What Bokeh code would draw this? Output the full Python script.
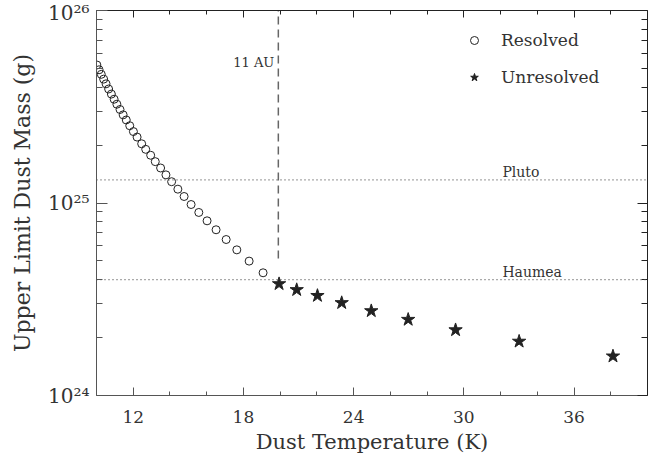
from bokeh.plotting import figure
from bokeh.models import (Range1d, LogAxis, LinearAxis, FixedTicker, CustomJSTickFormatter,
                          Span, Label, Legend, LegendItem, Segment, ColumnDataSource)
from bokeh.embed import file_html
from bokeh.resources import INLINE

# ---- data ----
resolved_temp = [10.02, 10.14, 10.26, 10.39, 10.52, 10.66, 10.81, 10.96, 11.11, 11.28,
                 11.45, 11.62, 11.81, 12.01, 12.21, 12.46, 12.68, 12.95, 13.20, 13.49,
                 13.78, 14.09, 14.43, 14.77, 15.15, 15.57, 16.02, 16.51, 17.06, 17.64,
                 18.31, 19.07]
resolved_mass = [5.21e25, 4.92e25, 4.66e25, 4.40e25, 4.16e25, 3.91e25, 3.68e25, 3.46e25,
                 3.26e25, 3.06e25, 2.87e25, 2.70e25, 2.52e25, 2.35e25, 2.20e25, 2.03e25,
                 1.90e25, 1.77e25, 1.64e25, 1.52e25, 1.40e25, 1.29e25, 1.18e25, 1.081e25,
                 9.82e24, 8.93e24, 8.08e24, 7.26e24, 6.46e24, 5.71e24, 4.99e24, 4.34e24]
unresolved_temp = [19.94, 20.90, 22.03, 23.35, 24.96, 26.97, 29.55, 33.01, 38.12]
unresolved_mass = [3.80e24, 3.54e24, 3.30e24, 3.03e24, 2.75e24, 2.48e24, 2.19e24, 1.91e24, 1.60e24]

pluto_mass = 1.32e25
haumea_mass = 4.0e24
au11_temp = 19.9
au11_bottom = 5.15e24
au11_label_mass = 5.35e25
ref_label_temp = 32.1

x_major = [12, 18, 24, 30, 36]
x_minor = [10, 14, 16, 20, 22, 26, 28, 32, 34, 38, 40]
y_major = [1e24, 1e25, 1e26]
y_minor = [2e24, 3e24, 4e24, 5e24, 6e24, 7e24, 8e24, 9e24,
           2e25, 3e25, 4e25, 5e25, 6e25, 7e25, 8e25, 9e25]

FONT = "DejaVu Serif"
TXT = "#333333"

p = figure(width=650, height=458, output_backend="svg", toolbar_location=None,
           x_range=Range1d(10, 40), y_range=Range1d(1e24, 1e26), y_axis_type="log",
           min_border_left=96, min_border_right=3, min_border_top=10, min_border_bottom=63)
p.outline_line_color = None
p.grid.visible = False
p.background_fill_color = "white"

sup_fmt = CustomJSTickFormatter(code="""
const e = Math.round(Math.log10(tick));
const sup = {'0':'\u2070','1':'\u00b9','2':'\u00b2','3':'\u00b3','4':'\u2074','5':'\u2075','6':'\u2076','7':'\u2077','8':'\u2078','9':'\u2079','-':'\u207b'};
return '10' + String(e).split('').map(c => sup[c]).join('');
""")
blank_fmt = CustomJSTickFormatter(code="return '';")

xa = p.xaxis[0]
xa.ticker = FixedTicker(ticks=x_major, minor_ticks=x_minor)
xa.axis_label = "Dust Temperature (K)"
ya = p.yaxis[0]
ya.ticker = FixedTicker(ticks=y_major, minor_ticks=y_minor)
ya.formatter = sup_fmt
ya.axis_label = "Upper Limit Dust Mass (g)"

for ax in (xa, ya):
    ax.axis_line_color = "#555555"
    ax.major_tick_line_color = "#555555"
    ax.minor_tick_line_color = "#555555"
    ax.major_tick_out = 0
    ax.minor_tick_out = 0
    ax.axis_label_text_font = FONT
    ax.axis_label_text_font_style = "normal"
    ax.axis_label_text_color = TXT
    ax.major_label_text_font = FONT
    ax.major_label_text_color = TXT

xa.major_tick_in = 8
xa.minor_tick_in = 4
xa.major_label_text_font_size = "17px"
xa.major_label_standoff = 15
xa.axis_label_standoff = 4
xa.axis_label_text_font_size = "21px"
ya.major_tick_in = 11
ya.minor_tick_in = 6
ya.major_label_text_font_size = "20px"
ya.major_label_standoff = 7
ya.axis_label_standoff = 10
ya.axis_label_text_font_size = "22px"

top = LinearAxis(ticker=FixedTicker(ticks=x_major, minor_ticks=x_minor), formatter=blank_fmt,
                 major_tick_in=7, major_tick_out=0, minor_tick_in=4, minor_tick_out=0,
                 axis_line_color="#222222", major_tick_line_color="#222222",
                 minor_tick_line_color="#222222", major_label_standoff=0,
                 major_label_text_font_size="0px")
right = LogAxis(ticker=FixedTicker(ticks=y_major, minor_ticks=y_minor), formatter=blank_fmt,
                major_tick_in=10, major_tick_out=0, minor_tick_in=6, minor_tick_out=0,
                axis_line_color="#222222", major_tick_line_color="#222222",
                minor_tick_line_color="#222222", major_label_standoff=0,
                major_label_text_font_size="0px")
p.add_layout(top, "above")
p.add_layout(right, "right")

# reference lines
for m in (pluto_mass, haumea_mass):
    p.add_layout(Span(location=m, dimension="width", line_color="#555555",
                      line_width=1.2, line_dash="1 3"))
src_v = ColumnDataSource(dict(x0=[au11_temp], y0=[au11_bottom], x1=[au11_temp], y1=[1e26]))
p.add_glyph(src_v, Segment(x0="x0", y0="y0", x1="x1", y1="y1", line_color="#666666",
                           line_width=1.5, line_dash="8 5"))

p.add_layout(Label(x=ref_label_temp, y=pluto_mass, text="Pluto", y_offset=8,
                   text_font=FONT, text_font_size="14px", text_color=TXT,
                   text_baseline="alphabetic"))
p.add_layout(Label(x=ref_label_temp, y=haumea_mass, text="Haumea", y_offset=8,
                   text_font=FONT, text_font_size="14px", text_color=TXT,
                   text_baseline="alphabetic"))
p.add_layout(Label(x=au11_temp, y=au11_label_mass, text="11 AU", x_offset=-4,
                   text_font=FONT, text_font_size="13px", text_color=TXT,
                   text_align="right", text_baseline="middle"))

r_res = p.scatter(resolved_temp, resolved_mass, marker="circle", size=8,
                  line_color="#222222", line_width=1, fill_alpha=0)
r_unres = p.scatter(unresolved_temp, unresolved_mass, marker="star", size=14,
                    line_color="#222222", fill_color="#222222")

legend = Legend(items=[LegendItem(label="Resolved", renderers=[r_res]),
                       LegendItem(label="Unresolved", renderers=[r_unres])],
                location=(368, 308), border_line_color=None, background_fill_alpha=0,
                label_text_font=FONT, label_text_font_size="17px", label_text_color=TXT,
                glyph_width=20, glyph_height=20, label_height=20, spacing=17,
                label_standoff=17, padding=10, margin=0)
p.add_layout(legend)

open("out.html", "w").write(file_html(p, INLINE))
